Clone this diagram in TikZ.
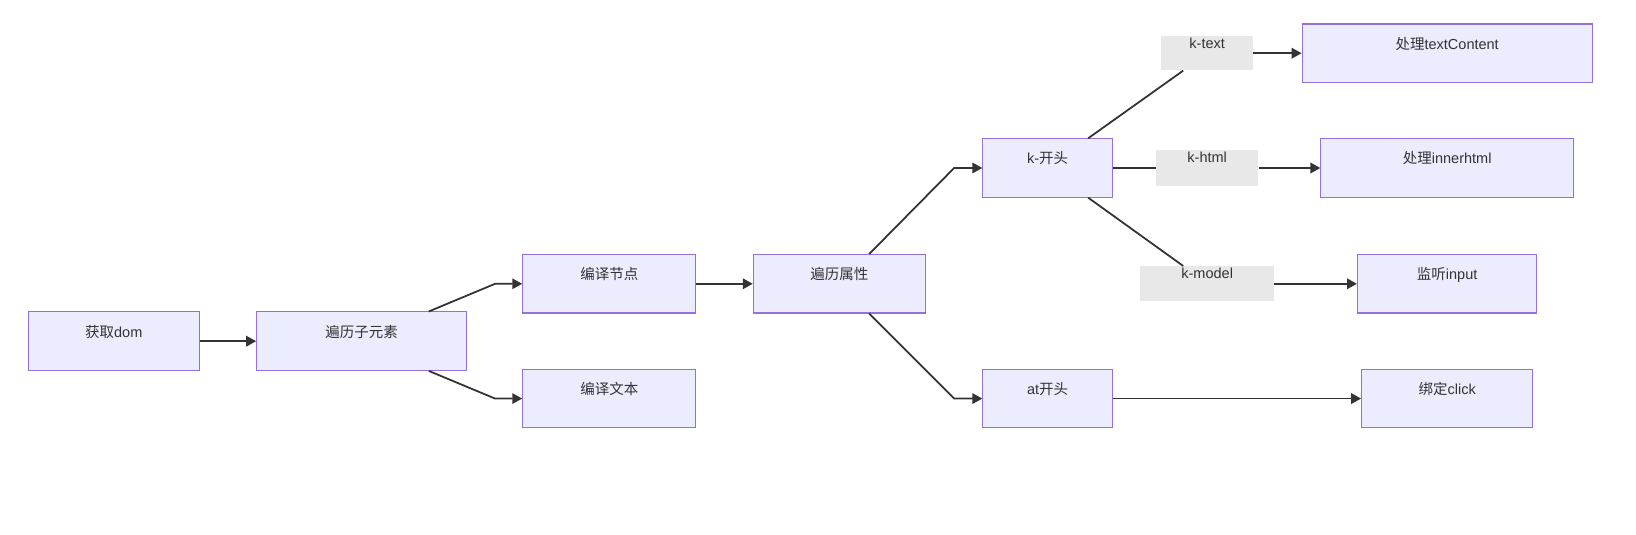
\documentclass[tikz,border=0pt]{standalone}
\usepackage{fontspec}
\setmainfont{Liberation Sans}
\newfontfamily\cjk{Noto Sans CJK SC}
\usetikzlibrary{arrows.meta}
\definecolor{boxfill}{HTML}{ECECFF}
\definecolor{boxborder}{HTML}{9370DB}
\definecolor{lblfill}{HTML}{E8E8E8}
\definecolor{linecol}{HTML}{333333}
\definecolor{txtcol}{HTML}{333333}
\tikzset{
  box/.style={draw=boxborder, fill=boxfill, line width=1pt, inner xsep=0pt, inner ysep=0pt,
    minimum height=56pt, text height=24pt, text depth=32pt, text=txtcol,
    font=\fontsize{13.9}{16}\selectfont},
  lbl/.style={fill=lblfill, inner xsep=0pt, inner ysep=0pt,
    text height=11.8pt, text depth=22pt, text=txtcol,
    font=\fontsize{13.9}{16}\selectfont},
  conn/.style={draw=linecol, line width=1.7pt},
  arr/.style={conn, -{Triangle[length=9.5pt,width=10pt]}}
}
\begin{document}
\begin{tikzpicture}[x=1pt,y=-1pt]
\useasboundingbox (0,0) rectangle (1568,512);
% main boxes
\node[box, minimum width=164pt] (dom)    at (109,327)   {{\cjk 获取}dom};
\node[box, minimum width=201pt] (sub)    at (346.5,327) {\cjk 遍历子元素};
\node[box, minimum width=166pt] (cnode)  at (584,272)   {\cjk 编译节点};
\node[box, minimum width=166pt] (ctext)  at (584,382)   {\cjk 编译文本};
\node[box, minimum width=165pt] (attr)   at (804.5,272) {\cjk 遍历属性};
\node[box, minimum width=124pt] (kstart) at (1004,161)  {k-{\cjk 开头}};
\node[box, minimum width=124pt] (atstart) at (1004,382) {at{\cjk 开头}};
\node[box, minimum width=278pt] (ptc)    at (1387,51)   {{\cjk 处理}textContent};
\node[box, minimum width=242pt] (pih)    at (1387,161)  {{\cjk 处理}innerhtml};
\node[box, minimum width=172pt] (inp)    at (1387,272)  {{\cjk 监听}input};
\node[box, minimum width=164pt] (click)  at (1387,382)  {{\cjk 绑定}click};
% edge labels
\node[lbl, minimum width=88pt, text depth=21.2pt]  (ktext)  at (1157,51) {k-text};
\node[lbl, minimum width=98pt]  (khtml)  at (1157,161) {k-html};
\node[lbl, minimum width=128pt] (kmodel) at (1157,272) {k-model};
% connectors
\draw[arr] (dom.east) -- (sub.west);
\draw[arr] ([xshift=64.5pt]sub.north) -- ([xshift=-26pt]cnode.west) -- (cnode.west);
\draw[arr] ([xshift=64.5pt]sub.south) -- ([xshift=-26pt]ctext.west) -- (ctext.west);
\draw[arr] (cnode.east) -- (attr.west);
\draw[arr] ([xshift=28.5pt]attr.north) -- ([xshift=-27pt]kstart.west) -- (kstart.west);
\draw[arr] ([xshift=28.5pt]attr.south) -- ([xshift=-27pt]atstart.west) -- (atstart.west);
\draw[conn] ([xshift=39pt]kstart.north) -- ([xshift=-23pt]ktext.south);
\draw[arr] (ktext.east) -- (ptc.west);
\draw[conn] (kstart.east) -- (khtml.west);
\draw[arr] (khtml.east) -- (pih.west);
\draw[conn] ([xshift=39pt]kstart.south) -- ([xshift=-23pt]kmodel.north);
\draw[arr] (kmodel.east) -- (inp.west);
\draw[arr] (atstart.east) -- (click.west);
\end{tikzpicture}
\end{document}
